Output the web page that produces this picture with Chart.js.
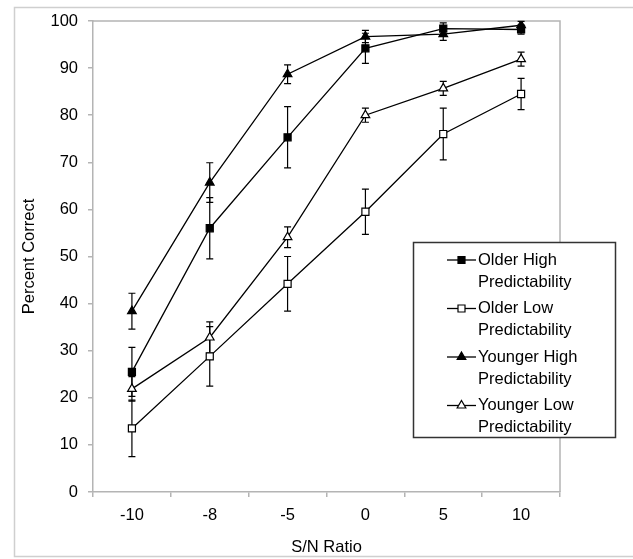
<!DOCTYPE html>
<html>
<head>
<meta charset="utf-8">
<script src="https://cdn.jsdelivr.net/npm/chart.js@4/dist/chart.umd.min.js"></script>
<style>
  body { margin: 0; background: #fff; }
  #wrap { width: 633px; height: 559px; }
</style>
</head>
<body>
<div id="wrap"><canvas id="graf" width="633" height="559"></canvas></div>
<script>
// podaci
const snOmjer = ['-10', '-8', '-5', '0', '5', '10'];
const stariVisoka = [25.5, 56, 75.3, 94.2, 98.4, 98.2];
const stariVisokaGr = [5.2, 6.5, 6.5, 3.2, 1.2, 1.0];
const stariNiska = [13.5, 28.8, 44.2, 59.5, 76, 84.5];
const stariNiskaGr = [6, 6.3, 5.8, 4.8, 5.5, 3.3];
const mladiVisoka = [38.4, 65.7, 88.7, 96.7, 97.2, 99.1];
const mladiVisokaGr = [3.8, 4.2, 2, 1.3, 1.3, 0.8];
const mladiNiska = [21.9, 32.8, 54.1, 80, 85.7, 91.9];
const mladiNiskaGr = [2.6, 3.3, 2.2, 1.5, 1.5, 1.5];
const yOznake = [0, 10, 20, 30, 40, 50, 60, 70, 80, 90, 100];

const FONT = '"Liberation Sans", Arial, sans-serif';
const SIVA = '#b4b4b4';

function serija(ime, podaci, greske, oblik, puni) {
    return {
        label: ime,
        data: podaci,
        greske: greske,
        borderColor: '#000',
        borderWidth: 1.3,
        pointStyle: oblik,
        pointRadius: 5,
        pointHoverRadius: 5,
        pointBorderWidth: 1.2,
        pointBorderColor: '#000',
        pointBackgroundColor: puni ? '#000' : '#fff',
        tension: 0,
        fill: false
    };
}

const okvirPlugin = {
    id: 'okvir',
    beforeDraw(chart) {
        const ctx = chart.ctx;
        ctx.save();
        ctx.strokeStyle = '#cfcfcf';
        ctx.lineWidth = 1.5;
        ctx.beginPath();
        ctx.moveTo(633, 7.5);
        ctx.lineTo(14.5, 7.5);
        ctx.lineTo(14.5, 556.5);
        ctx.lineTo(633, 556.5);
        ctx.stroke();
        ctx.restore();
    },
    beforeDatasetsDraw(chart) {
        const ctx = chart.ctx;
        const a = chart.chartArea;
        ctx.save();
        ctx.strokeStyle = SIVA;
        ctx.lineWidth = 1.5;
        ctx.beginPath();
        ctx.moveTo(a.left, a.top);
        ctx.lineTo(a.right, a.top);
        ctx.lineTo(a.right, a.bottom);
        ctx.stroke();

        // error bars
        const y = chart.scales.y;
        ctx.strokeStyle = '#000';
        ctx.lineWidth = 1.2;
        chart.data.datasets.forEach((ds, i) => {
            const meta = chart.getDatasetMeta(i);
            meta.data.forEach((pt, j) => {
                const v = ds.data[j], e = ds.greske[j];
                const y1 = y.getPixelForValue(v + e);
                const y2 = y.getPixelForValue(v - e);
                ctx.beginPath();
                ctx.moveTo(pt.x, y1); ctx.lineTo(pt.x, y2);
                ctx.moveTo(pt.x - 3.5, y1); ctx.lineTo(pt.x + 3.5, y1);
                ctx.moveTo(pt.x - 3.5, y2); ctx.lineTo(pt.x + 3.5, y2);
                ctx.stroke();
            });
        });
        ctx.restore();
    }
};

function crtajOznaku(ctx, oblik, puni, x, y) {
    ctx.beginPath();
    if (oblik === 'rect') {
        ctx.rect(x - 3.5, y - 3.5, 7, 7);
    } else {
        const r = 5;
        ctx.moveTo(x, y - r);
        ctx.lineTo(x + Math.sin(2 * Math.PI / 3) * r, y + 0.5 * r);
        ctx.lineTo(x - Math.sin(2 * Math.PI / 3) * r, y + 0.5 * r);
        ctx.closePath();
    }
    ctx.fillStyle = puni ? '#000' : '#fff';
    ctx.fill();
    ctx.stroke();
}

const legendaPlugin = {
    id: 'legenda',
    afterDraw(chart) {
        const ctx = chart.ctx;
        ctx.save();
        ctx.fillStyle = '#fff';
        ctx.fillRect(413, 242, 202, 195);
        ctx.strokeStyle = '#333';
        ctx.lineWidth = 1.5;
        ctx.strokeRect(413.5, 242.5, 202, 195);
        ctx.font = '16.5px ' + FONT;
        ctx.textBaseline = 'middle';
        ctx.textAlign = 'left';
        chart.data.datasets.forEach((ds, i) => {
            const yy = 260 + 48.5 * i;
            ctx.strokeStyle = '#000';
            ctx.lineWidth = 1.3;
            ctx.beginPath();
            ctx.moveTo(447, yy); ctx.lineTo(476, yy);
            ctx.stroke();
            ctx.lineWidth = 1.2;
            crtajOznaku(ctx, ds.pointStyle, ds.pointBackgroundColor === '#000', 461.5, yy);
            ctx.fillStyle = '#000';
            const dijelovi = ds.label.split('\n');
            dijelovi.forEach((t, k) => ctx.fillText(t, 478, yy + k * 22));
        });
        ctx.restore();
    }
};

new Chart(document.getElementById('graf').getContext('2d'), {
    type: 'line',
    data: {
        labels: snOmjer,
        datasets: [
            serija('Older High\nPredictability', stariVisoka, stariVisokaGr, 'rect', true),
            serija('Older Low\nPredictability', stariNiska, stariNiskaGr, 'rect', false),
            serija('Younger High\nPredictability', mladiVisoka, mladiVisokaGr, 'triangle', true),
            serija('Younger Low\nPredictability', mladiNiska, mladiNiskaGr, 'triangle', false)
        ]
    },
    options: {
        responsive: false,
        animation: false,
        layout: { padding: { left: 14, top: 21, right: 73, bottom: 0 } },
        plugins: {
            legend: { display: false },
            tooltip: { enabled: false }
        },
        scales: {
            x: {
                type: 'category',
                offset: true,
                afterFit: s => { s.height = 67; },
                grid: { offset: true, drawOnChartArea: false, tickLength: 5, color: SIVA, lineWidth: 1.5 },
                border: { color: SIVA, width: 1.5 },
                ticks: { color: '#000', padding: 9, font: { family: FONT, size: 16.5 } },
                title: { display: true, text: 'S/N Ratio', color: '#000', padding: { top: 0, bottom: 2 }, font: { family: FONT, size: 16.5 } }
            },
            y: {
                min: 0,
                max: 100,
                afterFit: s => { s.width = 79; },
                afterBuildTicks: s => { s.ticks = yOznake.map(v => ({ value: v })); },
                grid: { drawOnChartArea: false, tickLength: 5, color: SIVA, lineWidth: 1.5 },
                border: { color: SIVA, width: 1.5 },
                ticks: { color: '#000', padding: 10, font: { family: FONT, size: 16.5 } },
                title: { display: true, text: 'Percent Correct', color: '#000', padding: { top: 6, bottom: 0 }, font: { family: FONT, size: 16.5 } }
            }
        }
    },
    plugins: [okvirPlugin, legendaPlugin]
});
</script>
</body>
</html>
